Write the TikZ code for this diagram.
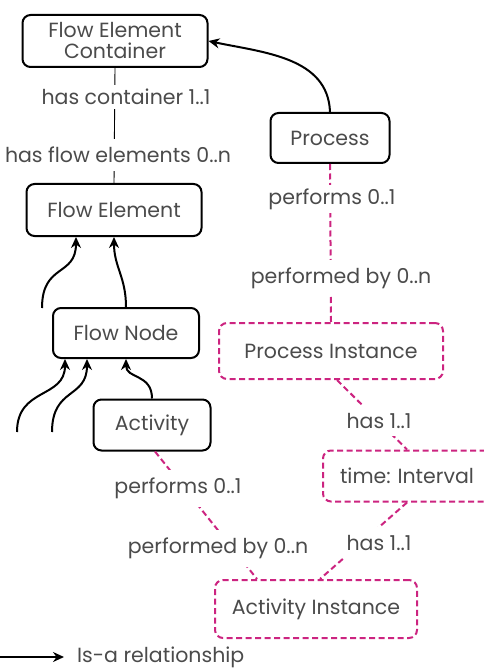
\documentclass[tikz,border=0pt]{standalone}
\usepackage{fontspec}
\setmainfont{Poppins}
\usetikzlibrary{arrows.meta,shapes,positioning}
\definecolor{linkpink}{RGB}{204,36,128}
\definecolor{textgray}{RGB}{75,75,75}

\begin{document}
\begin{tikzpicture}[
  x=1pt, y=-1pt,
  concept/.style={rectangle, rounded corners=8pt, draw=black, line width=2pt, fill=white, text=textgray, font=\fontsize{20.5}{21}\selectfont, inner sep=2pt},
  instance/.style={concept, draw=linkpink, dash pattern=on 6pt off 3.5pt},
  rel/.style={fill=white, text=textgray, font=\fontsize{20.5}{21}\selectfont, inner sep=4pt},
  isa/.style={-{Stealth[length=11pt,width=10pt]}, line width=2pt},
  link/.style={line width=0.9pt, black},
  ilink/.style={line width=2pt, linkpink, dash pattern=on 6pt off 3.5pt}
]
\useasboundingbox (0,0) rectangle (483,668);

% Concepts
\node[concept, minimum width=185pt, minimum height=52pt, align=center] (container) at (115,41) {Flow Element\\Container};
\node[concept, minimum width=175pt, minimum height=52pt] (flowelem) at (114,210) {Flow Element};
\node[concept, minimum width=146pt, minimum height=50pt] (flownode) at (126,333) {Flow Node};
\node[concept, minimum width=117pt, minimum height=51pt] (activity) at (152,425) {Activity};
\node[concept, minimum width=119pt, minimum height=50pt] (process) at (330,138) {Process};

% Instances
\node[instance, minimum width=224pt, minimum height=56pt] (procinst) at (331,351) {Process Instance};
\node[instance, minimum width=180pt, minimum height=51pt, text width=146pt] (timeint) at (413,476) {time:\ Interval};
\node[instance, minimum width=202pt, minimum height=58pt] (actinst) at (316,609) {Activity Instance};

% Free ends of the is-a arrows
\coordinate (fe1) at (42,308);
\coordinate (fn1) at (17,432);
\coordinate (fn2) at (52,432);
\coordinate (legstart) at (0,657);

% Is-a arrows
\draw[isa] (process.north) to[out=92,in=-12] (container.east);
\draw[isa] (fe1) .. controls +(0,-45) and +(0,40) .. ([xshift=-38pt]flowelem.south);
\draw[isa] (flownode.north) .. controls +(0,-30) and +(0,30) .. (flowelem.south);
\draw[isa] (fn1) .. controls +(0,-45) and +(0,40) .. ([xshift=-61pt]flownode.south);
\draw[isa] (fn2) .. controls +(0,-45) and +(0,40) .. ([xshift=-39pt]flownode.south);
\draw[isa] (activity.north) .. controls +(0,-25) and +(0,20) .. (flownode.south);

% Relations
\draw[link] (container.south) -- (flowelem.north);
\draw[ilink] (process.south) -- (procinst.north);
\draw[ilink] ([xshift=6pt]procinst.south) -- ([xshift=-6pt]timeint.north);
\draw[ilink] ([xshift=-6pt]timeint.south) -- ([xshift=4pt]actinst.north);
\draw[ilink] ([xshift=3pt]activity.south) -- ([xshift=-59pt]actinst.north);

% Relation labels
\node[rel] (hascont) at (126,97) {has container 1..1};
\node[rel, inner ysep=8pt] (hasflow) at (118,155) {has flow elements 0..n};
\node[rel] (perf1) at (332,199) {performs 0..1};
\node[rel, inner ysep=8pt] (perfby1) at (341,278) {performed by 0..n};
\node[rel, inner ysep=7pt] (has1) at (379,421) {has 1..1};
\node[rel, inner ysep=8pt] (has2) at (379,543) {has 1..1};
\node[rel, inner ysep=8pt] (perf2) at (178,488) {performs 0..1};
\node[rel, inner ysep=8pt] (perfby2) at (218,548) {performed by 0..n};

% Legend
\node[rel, fill=none, anchor=west, inner xsep=13pt] (legend) at (64,657) {Is-a relationship};
\draw[isa] (legstart) -- (legend);

\end{tikzpicture}
\end{document}
